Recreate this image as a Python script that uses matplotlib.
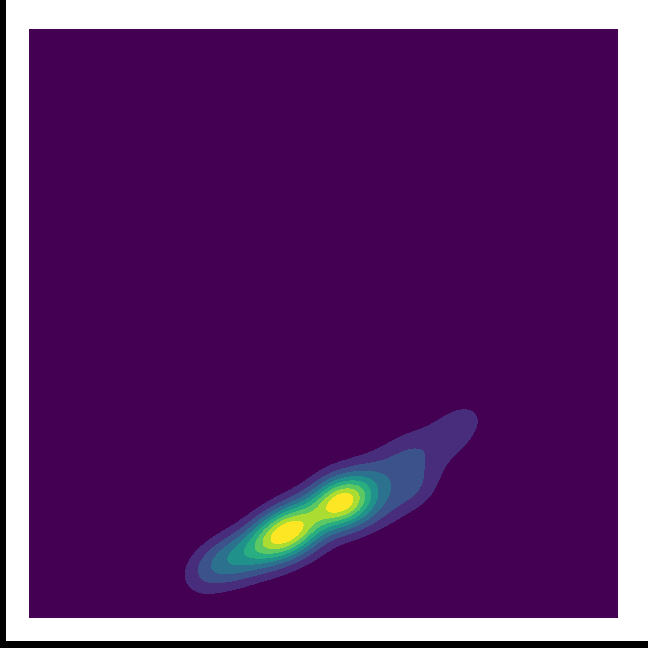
import numpy as np
import matplotlib
matplotlib.use("Agg")
import matplotlib.pyplot as plt
from matplotlib.patches import Rectangle

# sample points
xs = [2.9, 3.1, 3.2, 3.4, 3.5, 3.6, 3.7, 3.8, 3.9, 4.0,
      3.0, 3.3, 3.6, 3.9, 4.2, 4.5, 4.8, 5.1, 5.4, 5.7, 6.0, 6.3, 6.5,
      4.15, 4.25, 4.32, 4.40, 4.45, 4.50, 4.35, 4.28, 4.55, 4.42, 4.20,
      4.26, 4.50, 4.00, 4.75, 4.60, 4.10,
      4.65, 4.75, 4.85, 4.95, 5.05,
      5.20, 5.28, 5.35, 5.40, 5.25, 5.33, 5.45, 5.30, 5.38, 5.24,
      5.19, 5.43, 5.00, 5.60, 5.50,
      5.6, 5.75, 5.9, 6.1, 6.35, 6.6, 6.9, 7.25, 6.9, 6.5, 7.3,
      6.2, 5.8, 6.6, 7.5]
ys = [0.85, 0.80, 0.98, 0.92, 1.10, 0.98, 1.18, 1.08, 1.25, 1.15,
      0.60, 1.20, 0.75, 1.50, 0.95, 1.90, 1.20, 2.35, 1.55, 2.60, 1.80, 2.90, 2.15,
      1.33, 1.40, 1.45, 1.42, 1.50, 1.46, 1.38, 1.47, 1.52, 1.55, 1.30,
      1.66, 1.22, 1.45, 1.45, 1.75, 1.15,
      1.60, 1.66, 1.72, 1.78, 1.85,
      1.90, 1.96, 1.98, 2.04, 1.92, 1.93, 2.02, 2.00, 2.06, 1.88,
      2.17, 1.73, 2.05, 1.85, 2.20,
      2.12, 2.25, 2.32, 2.45, 2.68, 2.85, 3.10, 3.35, 2.65, 2.35, 3.00,
      2.00, 1.80, 2.20, 3.40]

n_levels = 10
bw_along = 0.33
bw_across = 0.25
angle = np.arctan(0.55)

# gaussian kde on a grid covering the whole axes
gx, gy = np.meshgrid(np.linspace(0, 10, 300), np.linspace(0, 10, 300))
c, s = np.cos(angle), np.sin(angle)
z = np.zeros_like(gx)
for px, py in zip(xs, ys):
    dx, dy = gx - px, gy - py
    u = (dx * c + dy * s) / bw_along
    v = (-dx * s + dy * c) / bw_across
    z += np.exp(-0.5 * (u**2 + v**2))
z /= z.max()

fig = plt.figure(figsize=(6.48, 6.48), dpi=100, facecolor="black")
fig.patches.append(Rectangle((6/648, 7/648), 1, 1, transform=fig.transFigure,
                             facecolor="white", edgecolor="none", zorder=-1))

ax = fig.add_axes([29/648, 30/648, 589/648, 589/648])
ax.set_facecolor(plt.cm.viridis(0))
levels = np.linspace(0, 1, n_levels)
half = (levels[1] - levels[0]) / 2
ax.contourf(gx, gy, z, levels=levels, cmap="viridis",
            vmin=half, vmax=1 - half)
ax.set_xlim(0, 10)
ax.set_ylim(0, 10)
ax.set_xticks([])
ax.set_yticks([])
for sp in ax.spines.values():
    sp.set_visible(False)

fig.savefig("out.png", dpi=100, facecolor=fig.get_facecolor())
plt.close()
